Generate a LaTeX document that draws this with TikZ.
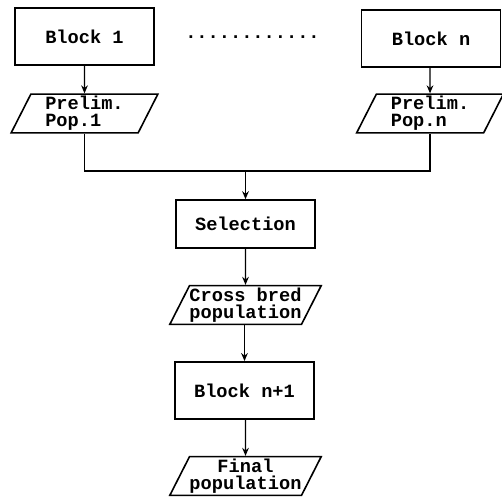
\documentclass[tikz,border=0pt]{standalone}
\usepackage{fontspec}
\setmonofont{Liberation Mono}
\usetikzlibrary{shapes.geometric,arrows.meta}

\tikzset{
  blockbox/.style={draw, line width=1.2pt, minimum width=104pt, minimum height=43pt, inner sep=0pt},
  popbox/.style={draw, line width=1.2pt, trapezium, trapezium left angle=60, trapezium right angle=120,
    trapezium stretches body=true, minimum width=110pt, minimum height=29pt, inner sep=0pt,
    align=center},
  flow/.style={line width=1pt, -{Stealth[length=6pt,width=5pt]}},
  link/.style={line width=1pt}
}

\begin{document}
\begin{tikzpicture}[x=0.75pt,y=0.75pt,yscale=-1,xscale=1,
    font=\ttfamily\bfseries\fontsize{14pt}{12.5pt}\selectfont]
                \useasboundingbox (0,0) rectangle (502,497);

                % Blocks of the first row
                \node [blockbox] (blk1) at (84.5,36.5) {Block 1};
                \node [blockbox] (blkn) at (431,38.5) {Block n};
                % Dots between the blocks
                \node (dots) at (252.5,37) {............};

                % Preliminary populations
                \node [popbox, align=left] (pop1) at (84.5,113.5) {Prelim.\\Pop.1};
                \node [popbox, align=left] (popn) at (430,113.5) {Prelim.\\Pop.n};

                % Joining point
                \coordinate (join) at (245.5,171);

                % Selection and following steps
                \node [blockbox, minimum height=36pt] (sel) at (245.5,224) {Selection};
                \node [popbox] (cross) at (245.5,305) {Cross bred\\population};
                \node [blockbox] (blkn1) at (244.5,390.5) {Block n+1};
                \node [popbox] (final) at (245.5,476) {Final\\population};

                % Connectors
                \draw [flow] (blk1) -- (pop1);
                \draw [flow] (blkn.south -| popn) -- (popn);
                \draw [link] (pop1.south) |- (join) -| (popn.south);
                \draw [flow] (join) -- (sel.north);
                \draw [flow] (sel) -- (cross);
                \draw [flow] (cross.south -| blkn1) -- (blkn1);
                \draw [flow] (blkn1.south -| final) -- (final);

\end{tikzpicture}
\end{document}
